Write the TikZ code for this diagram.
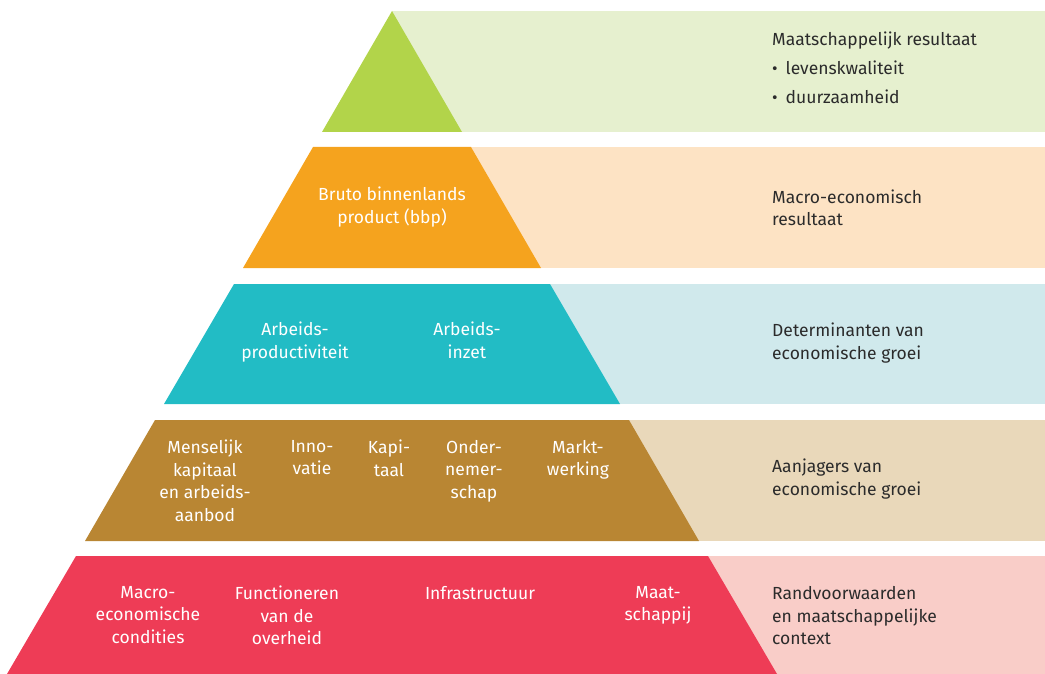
\documentclass[tikz,border=0pt]{standalone}
\usepackage{fontspec}
\setmainfont{Fira Sans}
\usepackage{xcolor}
\usepackage{tikz}
\definecolor{groenD}{HTML}{B2D44A}
\definecolor{groenL}{HTML}{E6F0CF}
\definecolor{oranjeD}{HTML}{F5A31E}
\definecolor{oranjeL}{HTML}{FDE3C4}
\definecolor{blauwD}{HTML}{22BCC5}
\definecolor{blauwL}{HTML}{D0E9EC}
\definecolor{bruinD}{HTML}{B98633}
\definecolor{bruinL}{HTML}{E9D8BA}
\definecolor{roodD}{HTML}{EE3C56}
\definecolor{roodL}{HTML}{F9CDC8}
\definecolor{tekst}{HTML}{2B2B2B}
\tikzstyle{pyrtext} = [text=white, align=center, anchor=north, inner sep=0pt,
font=\fontsize{17.5}{22.5}\selectfont]
\tikzstyle{zijtext} = [text=tekst, align=left, anchor=west, inner sep=0pt,
font=\fontsize{17.5}{22.5}\selectfont]
\newcommand{\opsom}{{\fontsize{17}{17}\selectfont\textbullet}\hspace{8pt}}

\begin{document}
\begin{tikzpicture}[x=1pt,y=-1pt]
        \useasboundingbox (0,0) rectangle (1045,674);
        % banden
        \fill[groenL] (392,11) rectangle (1045,132);
        \fill[groenD] (392,11) -- (462,132) -- (322,132) -- cycle;
        \fill[oranjeL] (400,147) rectangle (1045,268);
        \fill[oranjeD] (313,147) -- (471,147) -- (541,268) -- (243,268) -- cycle;
        \fill[blauwL] (400,284) rectangle (1045,404);
        \fill[blauwD] (234,284) -- (550,284) -- (620,404) -- (164,404) -- cycle;
        \fill[bruinL] (400,420) rectangle (1045,541);
        \fill[bruinD] (155,420) -- (629,420) -- (699,541) -- (85,541) -- cycle;
        \fill[roodL] (400,556) rectangle (1045,674);
        \fill[roodD] (76,556) -- (708,556) -- (777,674) -- (7,674) -- cycle;
        % rechts
        \node[zijtext, font=\fontsize{17.5}{29}\selectfont] (res) at (772,68)
            {Maatschappelijk resultaat\\
             \opsom levenskwaliteit\\
             \opsom duurzaamheid};
        \node[zijtext] (macro) at (772,208) {Macro-economisch\\resultaat};
        \node[zijtext] (det) at (772,343) {Determinanten van\\economische groei};
        \node[zijtext] (aanj) at (772,479) {Aanjagers van\\economische groei};
        \node[zijtext] (rand) at (772,616) {Randvoorwaarden\\en maatschappelijke\\context};
        % piramide
        \node[pyrtext] (bbp) at (392,187) {Bruto binnenlands\\product (bbp)};
        \node[pyrtext] (prod) at (295,322) {Arbeids-\\productiviteit};
        \node[pyrtext] (inzet) at (467,322) {Arbeids-\\inzet};
        \node[pyrtext] (mens) at (205,440) {Menselijk\\kapitaal\\en arbeids-\\aanbod};
        \node[pyrtext] (innov) at (312,440) {Inno-\\vatie};
        \node[pyrtext] (kap) at (389,440) {Kapi-\\taal};
        \node[pyrtext] (onder) at (474,440) {Onder-\\nemer-\\schap};
        \node[pyrtext] (markt) at (578,440) {Markt-\\werking};
        \node[pyrtext] (cond) at (148,586) {Macro-\\economische\\condities};
        \node[pyrtext] (overh) at (287,586) {Functioneren\\van de\\overheid};
        \node[pyrtext] (infra) at (480,586) {Infrastructuur};
        \node[pyrtext] (maat) at (658,586) {Maat-\\schappij};
    \end{tikzpicture}
\end{document}
